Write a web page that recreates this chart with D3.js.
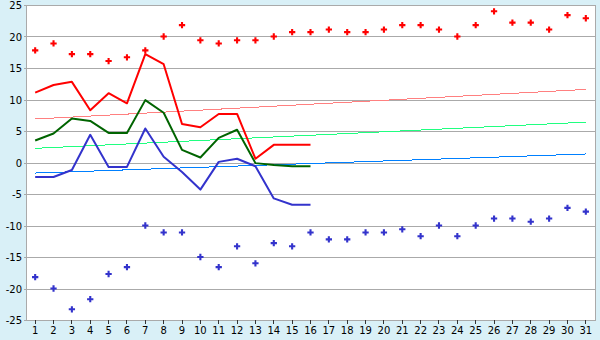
<!DOCTYPE html>
<html>
<head>
<meta charset="utf-8">
<script src="https://cdn.jsdelivr.net/npm/d3@7"></script>
<style>
  body { margin: 0; background: #d9f0f7; }
  svg { display: block; }
  text { font-family: "DejaVu Sans", Verdana, sans-serif; font-size: 10px; fill: #000; }
</style>
</head>
<body>
<svg id="chart" width="600" height="340"></svg>
<script>
// day labels on the x axis
var days = [1, 2, 3, 4, 5, 6, 7, 8, 9, 10, 11, 12, 13, 14, 15, 16, 17, 18, 19, 20, 21, 22, 23, 24, 25, 26, 27, 28, 29, 30, 31];
var yTicks = [-25, -20, -15, -10, -5, 0, 5, 10, 15, 20, 25];

// daily maximum / minimum (markers)
var maxValues = [17.8, 18.9, 17.2, 17.2, 16.1, 16.7, 17.8, 20.0, 21.8, 19.4, 18.9, 19.4, 19.4, 20.0, 20.7, 20.7,
                 21.1, 20.7, 20.7, 21.1, 21.8, 21.8, 21.1, 20.0, 21.8, 24.0, 22.2, 22.2, 21.1, 23.4, 22.9];
var minValues = [-18.2, -20.0, -23.3, -21.7, -17.7, -16.6, -10.0, -11.1, -11.1, -15.0, -16.6, -13.3, -16.0, -12.8, -13.3, -11.1,
                 -12.2, -12.2, -11.1, -11.1, -10.6, -11.7, -10.0, -11.7, -10.0, -8.9, -8.9, -9.4, -8.9, -7.2, -7.8];

// measured lines (days 1-16)
var highLine = [11.1, 12.3, 12.8, 8.3, 11.0, 9.4, 17.2, 15.6, 6.1, 5.6, 7.7, 7.7, 0.6, 2.8, 2.8, 2.8];
var meanLine = [3.5, 4.6, 7.0, 6.6, 4.7, 4.7, 9.9, 7.9, 2.0, 0.8, 3.9, 5.2, -0.1, -0.4, -0.6, -0.6];
var lowLine = [-2.3, -2.3, -1.2, 4.4, -0.7, -0.7, 5.4, 0.9, -1.5, -4.3, 0.1, 0.6, -0.6, -5.7, -6.7, -6.7];

// trend lines, value at day 1 and day 31
var trendDays = [1, 31];
var highTrend = [6.9, 11.6];
var meanTrend = [2.25, 6.4];
var lowTrend = [-1.67, 1.35];

var svg = d3.select('#chart');
var plotLeft = 26, plotRight = 595, plotTop = 5, plotBottom = 320;

var x = d3.scaleBand().domain(days).range([plotLeft, plotRight]);
var y = d3.scaleLinear().domain([-25, 25]).range([plotBottom, plotTop]);
var cx = function (d) { return x(d) + x.bandwidth() / 2; };

svg.append('rect').attr('x', plotLeft).attr('y', plotTop)
    .attr('width', plotRight - plotLeft).attr('height', plotBottom - plotTop).attr('fill', '#fff');

// grid lines
svg.append('g').selectAll('line').data(yTicks).enter().append('line')
    .attr('x1', plotLeft - 2).attr('x2', plotRight)
    .attr('y1', function (d) { return Math.round(y(d)) + 0.5; })
    .attr('y2', function (d) { return Math.round(y(d)) + 0.5; })
    .attr('stroke', '#aaa').attr('shape-rendering', 'crispEdges');

// frame
svg.append('line').attr('x1', plotLeft + 0.5).attr('x2', plotLeft + 0.5).attr('y1', plotTop).attr('y2', plotBottom + 1)
    .attr('stroke', '#aaa').attr('shape-rendering', 'crispEdges');
svg.append('line').attr('x1', plotRight + 0.5).attr('x2', plotRight + 0.5).attr('y1', plotTop).attr('y2', plotBottom + 1)
    .attr('stroke', '#aaa').attr('shape-rendering', 'crispEdges');

// y labels
svg.append('g').selectAll('text').data(yTicks).enter().append('text')
    .attr('x', plotLeft - 4).attr('y', function (d) { return y(d) + 4; })
    .attr('text-anchor', 'end')
    .text(function (d) { return d; });

// x axis
var xAxis = svg.append('g').attr('transform', 'translate(0,' + plotBottom + ')')
    .call(d3.axisBottom(x).tickSize(4).tickPadding(3));
xAxis.select('.domain').remove();
xAxis.selectAll('.tick line').attr('stroke', '#333').attr('shape-rendering', 'crispEdges');
xAxis.attr('font-family', null).attr('font-size', null);

// trend lines
var trendLine = d3.line()
    .x(function (d, i) { return cx(trendDays[i]); })
    .y(function (d) { return y(d); });
[[highTrend, '#ff8080'], [meanTrend, '#20ff80'], [lowTrend, '#0080ff']].forEach(function (t) {
    svg.append('path').datum(t[0]).attr('d', trendLine)
        .attr('fill', 'none').attr('stroke', t[1]).attr('stroke-width', 1)
        .attr('shape-rendering', 'crispEdges');
});

// measured lines
var valueLine = d3.line()
    .x(function (d, i) { return cx(days[i]); })
    .y(function (d) { return y(d); });
[[highLine, '#ff0000'], [meanLine, '#006400'], [lowLine, '#3333cc']].forEach(function (l) {
    svg.append('path').datum(l[0]).attr('d', valueLine)
        .attr('fill', 'none').attr('stroke', l[1]).attr('stroke-width', 2)
        .attr('stroke-linejoin', 'round');
});

// markers
var marker = d3.symbol().type(d3.symbolCross).size(22);
[[maxValues, '#ff0000'], [minValues, '#3333cc']].forEach(function (m) {
    svg.append('g').selectAll('path').data(m[0]).enter().append('path')
        .attr('d', marker)
        .attr('transform', function (d, i) { return 'translate(' + cx(days[i]) + ',' + y(d) + ')'; })
        .attr('fill', m[1]);
});
</script>
</body>
</html>
